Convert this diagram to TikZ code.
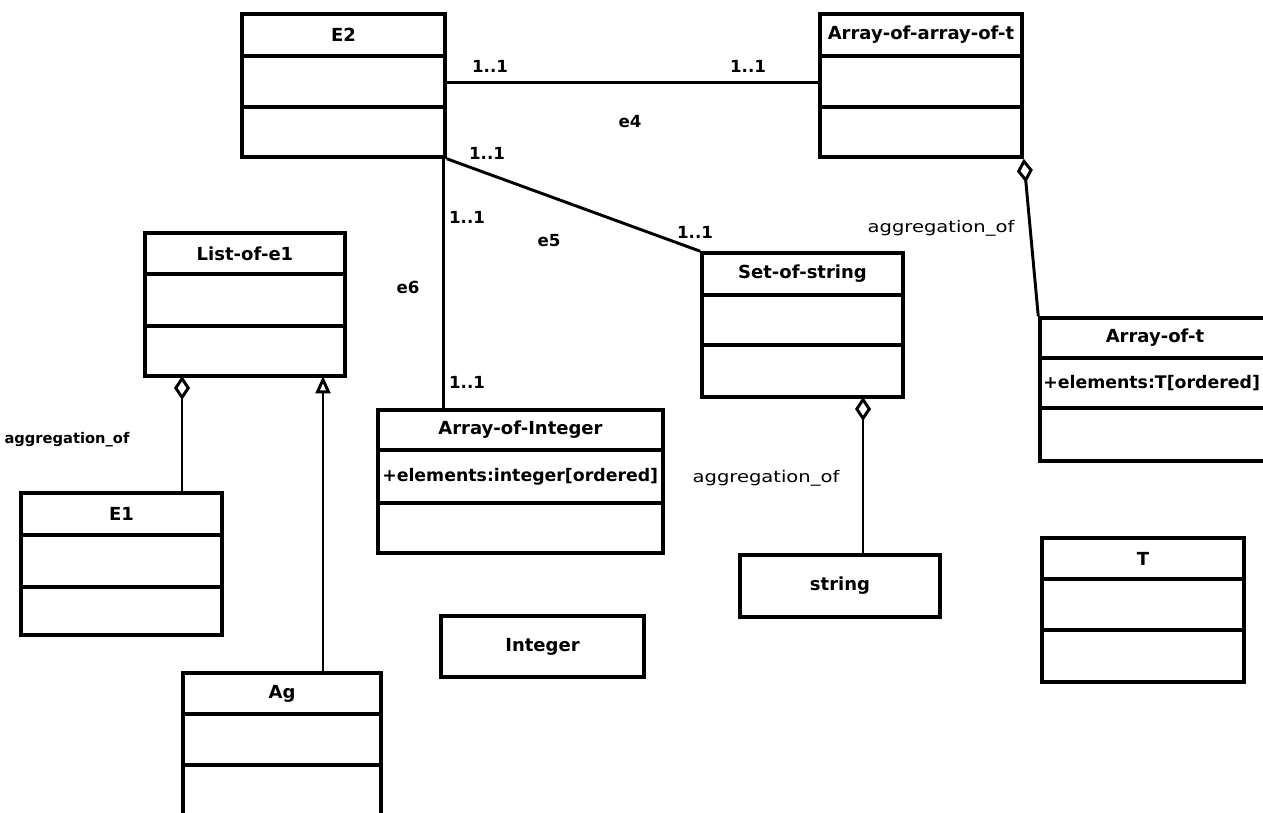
\documentclass[tikz,border=0pt]{standalone}
\usepackage{fontspec}
\usepackage{graphicx}
\setmainfont{DejaVu Sans}
\usetikzlibrary{arrows.meta,fit}
\tikzset{
  clsbox/.style={draw, line width=2.6pt, inner sep=0pt},
  clsline/.style={line width=2.4pt},
  clstitle/.style={font=\fontsize{13.5}{15}\selectfont\bfseries, inner sep=0pt},
  clsattr/.style={font=\fontsize{13}{15}\selectfont\bfseries, inner sep=0pt},
  lab/.style={font=\fontsize{12.5}{14}\selectfont\bfseries, inner sep=0pt},
  aglab/.style={font=\fontsize{11}{13}\selectfont\bfseries, inner sep=0pt},
  aglabthin/.style={font=\fontsize{12}{14}\selectfont, inner sep=0pt},
  assoc/.style={line width=2.2pt},
  aggr/.style={line width=2.2pt, -{Diamond[open,length=18pt,width=12pt,line width=2.2pt]}},
  gener/.style={line width=2.2pt, -{Triangle[open,length=13pt,width=11pt,line width=2.2pt]}}
}
% name, x1, y1, x2, y2, line1, line2, title
\newcommand\umlthree[8]{%
  \coordinate (#1-a) at (#2,#3);
  \coordinate (#1-b) at (#4,#5);
  \node[clsbox, fit=(#1-a)(#1-b)] (#1) {};
  \draw[clsline] (#2,#6) -- (#4,#6);
  \draw[clsline] (#2,#7) -- (#4,#7);
  \node[clstitle] (#1-t) at ({(#2+#4)/2},{(#3+#6)/2}) {#8};
}
% name, x1, y1, x2, y2, title
\newcommand\umlone[6]{%
  \coordinate (#1-a) at (#2,#3);
  \coordinate (#1-b) at (#4,#5);
  \node[clsbox, fit=(#1-a)(#1-b)] (#1) {};
  \node[clstitle] (#1-t) at ({(#2+#4)/2},{(#3+#5)/2}) {#6};
}
\begin{document}
\begin{tikzpicture}[x=0.75pt,y=-0.75pt]
\useasboundingbox (0,0) rectangle (1263,813);
\fill[white] (0,0) rectangle (1263,813);

\umlthree{E2}{242}{14}{445}{157}{56}{107}{E2}
\umlthree{AoAoT}{820}{14}{1022}{157}{56}{107}{Array-of-array-of-t}
\umlthree{LoE}{145}{233}{345}{376}{274}{326}{List-of-e1}
\umlthree{E1}{21}{493}{222}{635}{535}{587}{E1}
\umlthree{Ag}{183}{673}{381}{840}{714}{765}{Ag}
\umlthree{AoI}{378}{410}{663}{553}{450}{503}{Array-of-Integer}
\node[clsattr, anchor=west] (AoI-attr) at (382,477) {+elements:integer[ordered]};
\umlone{Int}{441}{616}{644}{677}{Integer}
\umlthree{SoS}{702}{253}{903}{397}{295}{345}{Set-of-string}
\umlone{Str}{740}{555}{940}{617}{string}
\umlthree{AoT}{1040}{318}{1270}{461}{358}{408}{Array-of-t}
\node[clsattr, anchor=west] (AoT-attr) at (1043,383) {+elements:T[ordered]};
\umlthree{T}{1042}{538}{1244}{682}{579}{630}{T}

% e4
\draw[assoc] ([yshift=1.9pt]E2.east) -- ([yshift=1.9pt]AoAoT.west);
\node[lab] (m1) at (490,66) {1..1};
\node[lab] (m2) at (748,66) {1..1};
\node[lab] (e4) at (630,122) {e4};
% e5
\draw[assoc] (E2.south east) -- (SoS.north west);
\node[lab] (m3) at (487,153) {1..1};
\node[lab] (m4) at (695,232) {1..1};
\node[lab] (e5) at (549,241) {e5};
% e6
\coordinate (c6) at ([xshift=-2.25pt]E2.south east);
\draw[assoc] (c6) -- (c6 |- AoI.north);
\node[lab] (m5) at (467,217) {1..1};
\node[lab] (m6) at (467,382) {1..1};
\node[lab] (e6) at (408,287) {e6};

% aggregation E1 -> List-of-e1
\coordinate (a1) at (182,376);
\draw[aggr] (E1.north -| a1) -- (a1);
\node[aglab] (ag1) at (67,440) {aggregation\_of};
% generalization Ag -> List-of-e1
\coordinate (g1) at (323,376);
\draw[gener] (Ag.north -| g1) -- (g1);
% aggregation string -> Set-of-string
\coordinate (a2) at (863,397);
\draw[aggr] (Str.north -| a2) -- (a2);
\node[aglabthin] (ag2) at (766,478) {\scalebox{1.22}[1]{aggregation\_of}};
% aggregation Array-of-t -> Array-of-array-of-t
\draw[aggr] (AoT.north west) -- (AoAoT.south east);
\node[aglabthin] (ag3) at (941,228) {\scalebox{1.22}[1]{aggregation\_of}};
\end{tikzpicture}
\end{document}
